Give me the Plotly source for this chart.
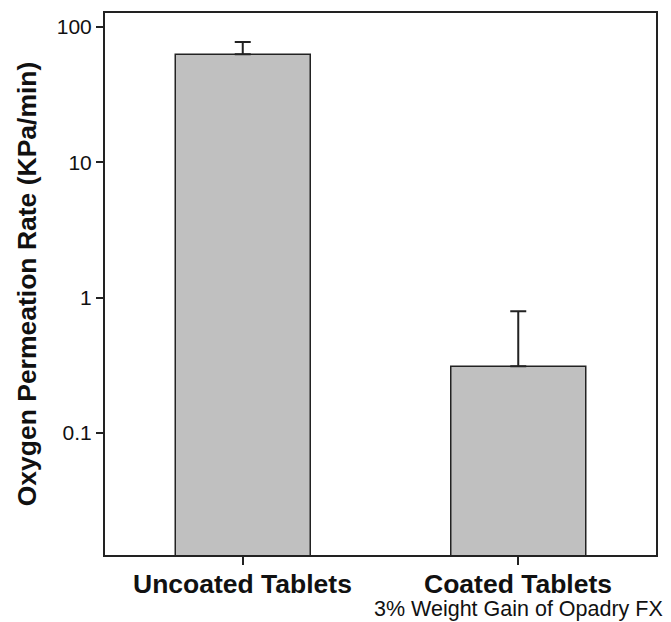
import plotly.graph_objects as go

categories = ["Uncoated Tablets", "Coated Tablets"]
rates = [62.8, 0.312]
upper_err = [14.6, 0.483]
subtitle = "3% Weight Gain of Opadry FX"
y_tick_vals = [0.1, 1, 10, 100]
y_tick_text = ["0.1", "1", "10", "100"]

fig = go.Figure()
fig.add_trace(go.Bar(
    x=categories, y=rates,
    marker=dict(color="#c0c0c0", line=dict(color="#222222", width=1.5)),
    width=0.49,
    error_y=dict(type="data", symmetric=False, array=upper_err,
                 arrayminus=[0, 0], color="#222222", thickness=2, width=8),
))

fig.update_layout(
    width=671, height=622,
    margin=dict(l=105, r=15, t=13, b=67),
    plot_bgcolor="white", paper_bgcolor="white",
    showlegend=False,
    font=dict(family="Liberation Sans, Arial, sans-serif", color="#111111"),
)
fig.update_xaxes(
    range=[-0.5, 1.5], showticklabels=False,
    showline=True, linecolor="#222222", linewidth=2, mirror=True,
    ticks="outside", ticklen=8, tickwidth=1.5, tickcolor="#222222",
)
fig.update_yaxes(
    type="log", range=[-1.90, 2.103],
    tickvals=y_tick_vals, ticktext=y_tick_text,
    tickfont=dict(size=21, color="#111111"),
    showline=True, linecolor="#222222", linewidth=2, mirror=True,
    ticks="outside", ticklen=7, tickwidth=1.5, tickcolor="#222222",
    showgrid=False, zeroline=False,
    title=dict(text="<b>Oxygen Permeation Rate (KPa/min)</b>",
               font=dict(size=26.5, color="#111111"), standoff=12),
)

for cat in categories:
    fig.add_annotation(x=cat, xref="x", y=0, yref="paper", yanchor="top",
                       yshift=-12, text="<b>" + cat + "</b>", showarrow=False,
                       font=dict(size=26.5, color="#111111"))
fig.add_annotation(x=categories[1], xref="x", y=0, yref="paper", yanchor="top",
                   yshift=-40, text=subtitle, showarrow=False,
                   font=dict(size=21.5, color="#111111"))

fig.write_html("out.html", config={"displayModeBar": False},
               post_script="document.body.style.margin='0';")
